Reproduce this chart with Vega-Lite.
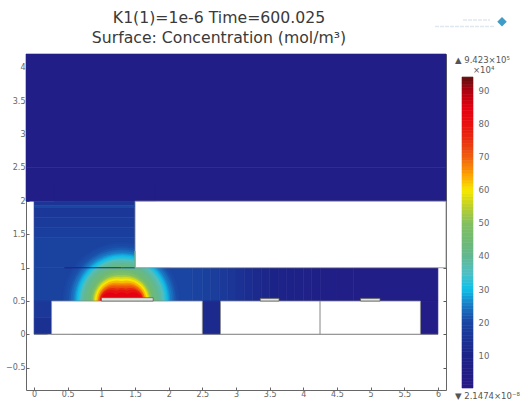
{
"$schema":"https://vega.github.io/schema/vega-lite/v6.json",
"background":"white",
"padding":{"left":5,"top":10,"right":0,"bottom":0},
"title":{"text":["K1(1)=1e-6 Time=600.025","Surface: Concentration (mol/m³)"],"anchor":"start","align":"center","frame":"group","dx":193,"fontSize":15.7,"fontWeight":"normal","font":"DejaVu Sans","color":"#3a3a3a","lineHeight":20,"offset":-30},
"config":{"view":{"stroke":null},"font":"DejaVu Sans"},
"bounds":"flush",
"spacing":9,
"datasets":{
"cells":[
{"x":-0.12,"x2":6.12,"y":2.5,"y2":4.21,"c":4},
{"x":-0.12,"x2":6.12,"y":2,"y2":2.5,"c":4.5},
{"x":0.3,"x2":1.8,"y":2,"y2":2.25,"c":5.5},
{"x":0,"x2":1.5,"y":1.9,"y2":2,"c":15},
{"x":0,"x2":1.5,"y":1.75,"y2":1.9,"c":16},
{"x":0,"x2":1.5,"y":1.6,"y2":1.75,"c":17},
{"x":0,"x2":1.5,"y":1.45,"y2":1.6,"c":18},
{"x":0,"x2":1.5,"y":1,"y2":1.45,"c":19},
{"x":0,"x2":1.5,"y":0.5,"y2":1,"c":19},
{"x":0,"x2":0.26,"y":0.25,"y2":0.5,"c":16},
{"x":0,"x2":0.26,"y":0,"y2":0.25,"c":14},
{"x":1.5,"x2":2.35,"y":0.5,"y2":1,"c":20},
{"x":2.35,"x2":2.5,"y":0.5,"y2":1,"c":19.5},
{"x":2.5,"x2":2.625,"y":0.5,"y2":1,"c":18.5},
{"x":2.625,"x2":2.75,"y":0.5,"y2":1,"c":17.5},
{"x":2.75,"x2":2.875,"y":0.5,"y2":1,"c":16.5},
{"x":2.875,"x2":3,"y":0.5,"y2":1,"c":15.5},
{"x":3,"x2":3.125,"y":0.5,"y2":1,"c":14.5},
{"x":3.125,"x2":3.25,"y":0.5,"y2":1,"c":13},
{"x":3.25,"x2":3.375,"y":0.5,"y2":1,"c":12},
{"x":3.375,"x2":3.5,"y":0.5,"y2":1,"c":11},
{"x":3.5,"x2":3.625,"y":0.5,"y2":1,"c":10},
{"x":3.625,"x2":3.75,"y":0.5,"y2":1,"c":9.5},
{"x":3.75,"x2":3.875,"y":0.5,"y2":1,"c":9},
{"x":3.875,"x2":4,"y":0.5,"y2":1,"c":8},
{"x":4,"x2":4.125,"y":0.5,"y2":1,"c":7.5},
{"x":4.125,"x2":4.25,"y":0.5,"y2":1,"c":7},
{"x":4.25,"x2":4.5,"y":0.5,"y2":1,"c":6},
{"x":4.5,"x2":4.75,"y":0.5,"y2":1,"c":5},
{"x":4.75,"x2":6,"y":0.5,"y2":1,"c":4},
{"x":2.5,"x2":2.77,"y":0,"y2":0.5,"c":12},
{"x":5.74,"x2":6,"y":0,"y2":0.5,"c":3}
],
"rings":[
{"x":1.3,"r":1.0,"c":20},{"x":1.3,"r":0.97,"c":20.5},{"x":1.3,"r":0.93,"c":21},{"x":1.31,"r":0.9,"c":22},
{"x":1.31,"r":0.87,"c":23.5},{"x":1.31,"r":0.84,"c":25},{"x":1.31,"r":0.81,"c":26.5},{"x":1.31,"r":0.79,"c":28},
{"x":1.31,"r":0.77,"c":29.5},{"x":1.31,"r":0.75,"c":31},{"x":1.31,"r":0.73,"c":33},{"x":1.31,"r":0.71,"c":36},
{"x":1.3,"r":0.68,"c":38},{"x":1.3,"r":0.64,"c":40},{"x":1.3,"r":0.6,"c":42},{"x":1.3,"r":0.56,"c":44},{"x":1.3,"r":0.52,"c":46},
{"x":1.27,"r":0.48,"c":49},{"x":1.33,"r":0.48,"c":49},
{"x":1.26,"r":0.44,"c":53},{"x":1.34,"r":0.44,"c":53},
{"x":1.25,"r":0.41,"c":57},{"x":1.35,"r":0.41,"c":57},
{"x":1.24,"r":0.38,"c":60},{"x":1.36,"r":0.38,"c":60},
{"x":1.23,"r":0.345,"c":63},{"x":1.37,"r":0.345,"c":63},
{"x":1.22,"r":0.31,"c":66},{"x":1.38,"r":0.31,"c":66},
{"x":1.2,"r":0.28,"c":69},{"x":1.3,"r":0.28,"c":69},{"x":1.4,"r":0.28,"c":69},
{"x":1.19,"r":0.25,"c":72},{"x":1.3,"r":0.25,"c":72},{"x":1.41,"r":0.25,"c":72},
{"x":1.17,"r":0.22,"c":76},{"x":1.3,"r":0.22,"c":76},{"x":1.43,"r":0.22,"c":76},
{"x":1.15,"r":0.19,"c":80},{"x":1.3,"r":0.19,"c":80},{"x":1.45,"r":0.19,"c":80},
{"x":1.13,"r":0.15,"c":85},{"x":1.3,"r":0.15,"c":85},{"x":1.47,"r":0.15,"c":85}
],
"masks":[
{"x":1.5,"x2":6.12,"y":1,"y2":2},
{"x":0.26,"x2":2.5,"y":0,"y2":0.5},
{"x":2.77,"x2":4.25,"y":0,"y2":0.5},
{"x":4.25,"x2":5.74,"y":0,"y2":0.5}
],
"plates":[
{"x":1,"x2":1.77,"y":0.5,"y2":0.55},
{"x":3.36,"x2":3.64,"y":0.5,"y2":0.54},
{"x":4.85,"x2":5.14,"y":0.5,"y2":0.54}
],
"lines":[
{"x":0.45,"x2":1.3,"y":1,"y2":1,"c":6},
{"x":1.3,"x2":1.5,"y":1,"y2":1,"c":21},
{"x":1.5,"x2":1.5,"y":1,"y2":1.25,"c":42},
{"x":0,"x2":1.5,"y":1.93,"y2":1.93,"c":22}
],
"bar":[
{"c":0.5,"lo":0,"hi":1},{"c":1.5,"lo":1,"hi":2},{"c":2.5,"lo":2,"hi":3},{"c":3.5,"lo":3,"hi":4},{"c":4.5,"lo":4,"hi":5},{"c":5.5,"lo":5,"hi":6},{"c":6.5,"lo":6,"hi":7},{"c":7.5,"lo":7,"hi":8},{"c":8.5,"lo":8,"hi":9},{"c":9.5,"lo":9,"hi":10},
{"c":10.5,"lo":10,"hi":11},{"c":11.5,"lo":11,"hi":12},{"c":12.5,"lo":12,"hi":13},{"c":13.5,"lo":13,"hi":14},{"c":14.5,"lo":14,"hi":15},{"c":15.5,"lo":15,"hi":16},{"c":16.5,"lo":16,"hi":17},{"c":17.5,"lo":17,"hi":18},{"c":18.5,"lo":18,"hi":19},{"c":19.5,"lo":19,"hi":20},
{"c":20.5,"lo":20,"hi":21},{"c":21.5,"lo":21,"hi":22},{"c":22.5,"lo":22,"hi":23},{"c":23.5,"lo":23,"hi":24},{"c":24.5,"lo":24,"hi":25},{"c":25.5,"lo":25,"hi":26},{"c":26.5,"lo":26,"hi":27},{"c":27.5,"lo":27,"hi":28},{"c":28.5,"lo":28,"hi":29},{"c":29.5,"lo":29,"hi":30},
{"c":30.5,"lo":30,"hi":31},{"c":31.5,"lo":31,"hi":32},{"c":32.5,"lo":32,"hi":33},{"c":33.5,"lo":33,"hi":34},{"c":34.5,"lo":34,"hi":35},{"c":35.5,"lo":35,"hi":36},{"c":36.5,"lo":36,"hi":37},{"c":37.5,"lo":37,"hi":38},{"c":38.5,"lo":38,"hi":39},{"c":39.5,"lo":39,"hi":40},
{"c":40.5,"lo":40,"hi":41},{"c":41.5,"lo":41,"hi":42},{"c":42.5,"lo":42,"hi":43},{"c":43.5,"lo":43,"hi":44},{"c":44.5,"lo":44,"hi":45},{"c":45.5,"lo":45,"hi":46},{"c":46.5,"lo":46,"hi":47},{"c":47.5,"lo":47,"hi":48},{"c":48.5,"lo":48,"hi":49},{"c":49.5,"lo":49,"hi":50},
{"c":50.5,"lo":50,"hi":51},{"c":51.5,"lo":51,"hi":52},{"c":52.5,"lo":52,"hi":53},{"c":53.5,"lo":53,"hi":54},{"c":54.5,"lo":54,"hi":55},{"c":55.5,"lo":55,"hi":56},{"c":56.5,"lo":56,"hi":57},{"c":57.5,"lo":57,"hi":58},{"c":58.5,"lo":58,"hi":59},{"c":59.5,"lo":59,"hi":60},
{"c":60.5,"lo":60,"hi":61},{"c":61.5,"lo":61,"hi":62},{"c":62.5,"lo":62,"hi":63},{"c":63.5,"lo":63,"hi":64},{"c":64.5,"lo":64,"hi":65},{"c":65.5,"lo":65,"hi":66},{"c":66.5,"lo":66,"hi":67},{"c":67.5,"lo":67,"hi":68},{"c":68.5,"lo":68,"hi":69},{"c":69.5,"lo":69,"hi":70},
{"c":70.5,"lo":70,"hi":71},{"c":71.5,"lo":71,"hi":72},{"c":72.5,"lo":72,"hi":73},{"c":73.5,"lo":73,"hi":74},{"c":74.5,"lo":74,"hi":75},{"c":75.5,"lo":75,"hi":76},{"c":76.5,"lo":76,"hi":77},{"c":77.5,"lo":77,"hi":78},{"c":78.5,"lo":78,"hi":79},{"c":79.5,"lo":79,"hi":80},
{"c":80.5,"lo":80,"hi":81},{"c":81.5,"lo":81,"hi":82},{"c":82.5,"lo":82,"hi":83},{"c":83.5,"lo":83,"hi":84},{"c":84.5,"lo":84,"hi":85},{"c":85.5,"lo":85,"hi":86},{"c":86.5,"lo":86,"hi":87},{"c":87.5,"lo":87,"hi":88},{"c":88.5,"lo":88,"hi":89},{"c":89.5,"lo":89,"hi":90},
{"c":90.5,"lo":90,"hi":91},{"c":91.5,"lo":91,"hi":92},{"c":92.5,"lo":92,"hi":93},{"c":93.5,"lo":93,"hi":94},{"c":94.1,"lo":94,"hi":94.23}
],
"notes":[
{"px":0,"v":99.4,"t":"▲ 9.423×10⁵"},
{"px":18,"v":96.4,"t":"×10⁴"},
{"px":0,"v":-2.4,"t":"▼ 2.1474×10⁻⁸"}
]
},
"hconcat":[
{
"width":420,"height":336,
"resolve":{"axis":{"x":"independent","y":"independent"}},
"layer":[
{"data":{"name":"cells"},"mark":{"type":"rect","strokeWidth":0.6},
"encoding":{
"x":{"field":"x","type":"quantitative","scale":{"domain":[-0.12,6.12],"nice":false,"zero":false},"axis":{"values":[0,0.5,1,1.5,2,2.5,3,3.5,4,4.5,5,5.5,6],"format":"~g","title":null,"grid":false,"domainColor":"#666","tickColor":"#666","tickSize":-3,"labelColor":"#666","labelFontSize":8,"labelPadding":3,"labelFlush":false,"labelOverlap":false}},
"x2":{"field":"x2"},
"y":{"field":"y","type":"quantitative","scale":{"domain":[-0.836,4.21],"nice":false,"zero":false},"axis":{"values":[-0.5,0,0.5,1,1.5,2,2.5,3,3.5,4],"format":"~g","title":null,"grid":false,"domainColor":"#666","tickColor":"#666","tickSize":-3,"labelColor":"#666","labelFontSize":8,"labelPadding":4,"labelFlush":false,"labelOverlap":false}},
"y2":{"field":"y2"},
"color":{"field":"c","type":"quantitative","legend":null,"scale":{"interpolate":"rgb","domain":[0,10,20,25,30,35,40,45,50,55,60,65,70,75,80,85,90,94.23],"range":["#261a86","#1c2388","#1a45a2","#1a78c4","#10c0e8","#50bfc4","#62b890","#70ba72","#84c060","#bcd02c","#f8e800","#fc9c00","#f06010","#e83010","#e81010","#e40010","#b00010","#601010"]}},
"stroke":{"field":"c","type":"quantitative","legend":null,"scale":{"interpolate":"rgb","domain":[0,10,20,25,30,35,40,45,50,55,60,65,70,75,80,85,90,94.23],"range":["#261a86","#1c2388","#1a45a2","#1a78c4","#10c0e8","#50bfc4","#62b890","#70ba72","#84c060","#bcd02c","#f8e800","#fc9c00","#f06010","#e83010","#e81010","#e40010","#b00010","#601010"]}}
}},
{"data":{"name":"rings"},"mark":{"type":"circle","opacity":1},
"encoding":{
"x":{"field":"x","type":"quantitative","axis":null},
"y":{"datum":0.5,"type":"quantitative","axis":null},
"size":{"field":"r","type":"quantitative","legend":null,"scale":{"type":"pow","exponent":2,"domain":[0,1],"range":[0,14102]}},
"color":{"field":"c","type":"quantitative"}
}},
{"data":{"values":[{"x":0.2,"x2":2.5,"y":-0.6,"y2":0}]},"mark":{"type":"rect","color":"white"},
"encoding":{"x":{"field":"x","type":"quantitative","axis":null},"x2":{"field":"x2"},"y":{"field":"y","type":"quantitative","axis":null},"y2":{"field":"y2"}}},
{"data":{"name":"masks"},"mark":{"type":"rect","color":"white","stroke":"#8a8a8a","strokeWidth":0.8},
"encoding":{"x":{"field":"x","type":"quantitative","axis":null},"x2":{"field":"x2"},"y":{"field":"y","type":"quantitative","axis":null},"y2":{"field":"y2"}}},
{"data":{"name":"plates"},"mark":{"type":"rect","color":"#dfe3da","stroke":"#555","strokeWidth":0.7},
"encoding":{"x":{"field":"x","type":"quantitative","axis":null},"x2":{"field":"x2"},"y":{"field":"y","type":"quantitative","axis":null},"y2":{"field":"y2"}}},
{"data":{"name":"lines"},"mark":{"type":"rule","strokeWidth":1.2},
"encoding":{"x":{"field":"x","type":"quantitative","axis":null},"x2":{"field":"x2"},"y":{"field":"y","type":"quantitative","axis":null},"y2":{"field":"y2"},"color":{"field":"c","type":"quantitative"}}},
{"data":{"values":[{"x":0,"x2":6,"y":0}]},"mark":{"type":"rule","color":"#8a8a8a","strokeWidth":0.8},
"encoding":{
"x":{"field":"x","type":"quantitative","axis":{"orient":"top","values":[0,0.5,1,1.5,2,2.5,3,3.5,4,4.5,5,5.5,6],"labels":false,"title":null,"grid":false,"domainColor":"#444","tickColor":"#555","tickSize":-3}},
"x2":{"field":"x2"},
"y":{"field":"y","type":"quantitative","axis":{"orient":"right","values":[-0.5,0,0.5,1,1.5,2,2.5,3,3.5,4],"labels":false,"title":null,"grid":false,"domainColor":"#666","tickColor":"#555","tickSize":-3}}
}}
]
},
{
"width":70,"height":336,
"layer":[
{"data":{"name":"bar"},"mark":{"type":"rect","strokeWidth":0.6},
"encoding":{
"x":{"datum":7,"type":"quantitative","scale":{"domain":[0,70],"nice":false,"zero":false},"axis":null},
"x2":{"datum":18},
"y":{"field":"lo","type":"quantitative","scale":{"domain":[-0.6,101.2],"nice":false,"zero":false},"axis":{"orient":"right","offset":-50,"values":[10,20,30,40,50,60,70,80,90],"title":null,"grid":false,"domain":false,"ticks":false,"labelColor":"#666","labelFontSize":8.5,"labelPadding":3}},
"y2":{"field":"hi"},
"color":{"field":"c","type":"quantitative","legend":null,"scale":{"interpolate":"rgb","domain":[0,10,20,25,30,35,40,45,50,55,60,65,70,75,80,85,90,94.23],"range":["#261a86","#1c2388","#1a45a2","#1a78c4","#10c0e8","#50bfc4","#62b890","#70ba72","#84c060","#bcd02c","#f8e800","#fc9c00","#f06010","#e83010","#e81010","#e40010","#b00010","#601010"]}},
"stroke":{"field":"c","type":"quantitative","legend":null,"scale":{"interpolate":"rgb","domain":[0,10,20,25,30,35,40,45,50,55,60,65,70,75,80,85,90,94.23],"range":["#261a86","#1c2388","#1a45a2","#1a78c4","#10c0e8","#50bfc4","#62b890","#70ba72","#84c060","#bcd02c","#f8e800","#fc9c00","#f06010","#e83010","#e81010","#e40010","#b00010","#601010"]}}
}},
{"data":{"name":"notes"},"mark":{"type":"text","align":"left","baseline":"middle","fontSize":8.5,"color":"#555"},
"encoding":{"x":{"field":"px","type":"quantitative"},"y":{"field":"v","type":"quantitative"},"text":{"field":"t"}}},
{"data":{"values":[{"px":-20,"px2":40,"v":109.5},{"px":8,"px2":35,"v":111.5}]},"mark":{"type":"rule","color":"#dfe8ef","strokeWidth":1.5,"strokeDash":[4,1]},
"encoding":{"x":{"field":"px","type":"quantitative"},"x2":{"field":"px2"},"y":{"field":"v","type":"quantitative"}}},
{"data":{"values":[{"px":47,"v":111}]},"mark":{"type":"point","shape":"diamond","filled":true,"opacity":1,"size":90,"color":"#3f9cc6"},
"encoding":{"x":{"field":"px","type":"quantitative"},"y":{"field":"v","type":"quantitative"}}}
]
}
]
}
